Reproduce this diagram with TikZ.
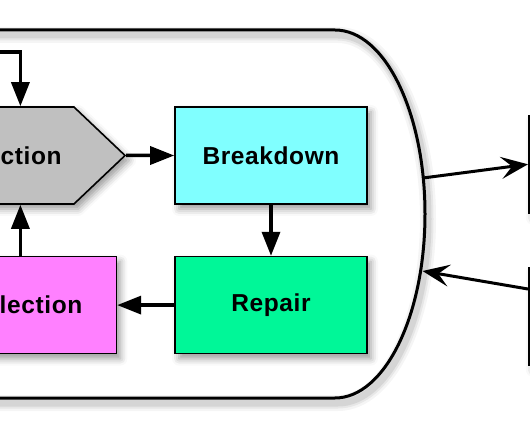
\documentclass[tikz,border=0pt]{standalone}
\usepackage{fontspec}
\setmainfont{Liberation Sans}
\newfontfamily\boxfamily[LetterSpace=2.5]{Liberation Sans}
\newcommand\boxfont{\boxfamily\bfseries\fontsize{24.5}{28}\selectfont}
\usetikzlibrary{arrows.meta,positioning,shapes.symbols,shadows.blur}

\definecolor{greybox}{RGB}{192,192,192}
\definecolor{cyanbox}{RGB}{128,255,255}
\definecolor{greenbox}{RGB}{0,247,152}
\definecolor{pinkbox}{RGB}{255,128,255}

\begin{document}
\begin{tikzpicture}[x=1pt, y=1pt, node distance=48pt,
    box/.style={draw, line width=1.6pt, minimum width=192pt, minimum height=97pt, font=\boxfont,
      blur shadow={shadow xshift=4pt, shadow yshift=-5pt, shadow blur radius=7pt, shadow opacity=40}},
    flow/.style={line width=3.5pt, -{Triangle[length=24pt, width=18pt]}},
    link/.style={line width=3pt, -{Stealth[length=27pt, width=22pt, inset=11pt]}}]
  \useasboundingbox (0,0) rectangle (530,442);
  \clip (0,0) rectangle (530,442);

  % the big rounded frame and its soft shadow
  \foreach \w/\o in {16/0.04, 11/0.06, 7/0.08} {
    \draw[line width=\w pt, opacity=\o, shift={(3,-5)}]
      (-20,412) -- (335,412) arc[start angle=90, end angle=-90, x radius=90, y radius=184] -- (-20,44);
  }
  \draw[line width=3pt]
    (-20,412) -- (335,412) arc[start angle=90, end angle=-90, x radius=90, y radius=184] -- (-20,44);

  \node[box, fill=cyanbox] (breakdown) at (271,286.5) {Breakdown};
  \node[box, fill=greenbox, below=51pt of breakdown] (repair) {Repair};
  \node[box, fill=pinkbox, left=57pt of repair] (collection) {Collection};
  \node[box, signal, signal to=east, signal pointer angle=87, minimum width=155pt,
        fill=greybox, left=of breakdown] (action) {Action};

  % boxes outside the frame
  \node[box, fill=white, anchor=north west] (stockin) at (528,327) {};
  \node[box, fill=white, anchor=north west] (stockout) at (528,175) {};

  \coordinate (feed) at (-5,390);
  \coordinate (hubout) at (423,264);
  \coordinate (hubin) at (422.5,171);

  \draw[flow] (feed) -| (collection.north |- action.north);
  \path (action)     edge [flow] (breakdown)
        (breakdown)  edge [flow] (repair)
        (repair)     edge [flow] (collection)
        (collection) edge [flow] (collection.north |- action.south);
  \draw[link] (hubout) -- (stockin.west);
  \draw[link] ([yshift=-22pt]stockout.north west) -- (hubin);
\end{tikzpicture}
\end{document}
